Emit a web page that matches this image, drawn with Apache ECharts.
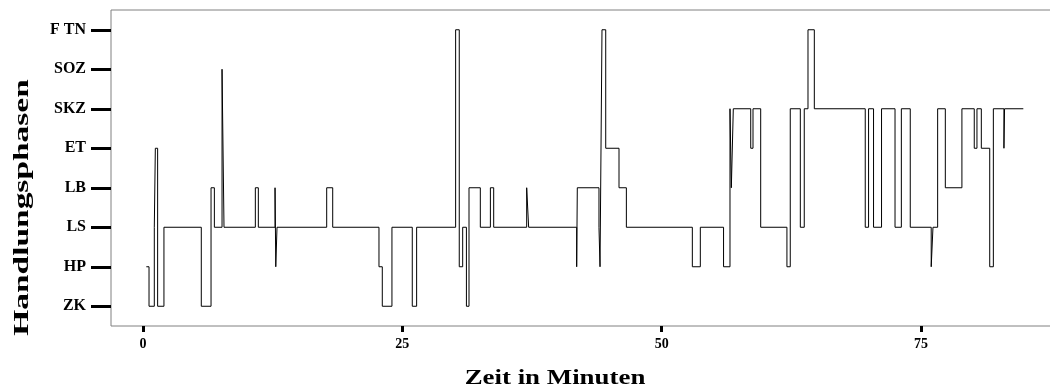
<!DOCTYPE html>
<html>
<head>
<meta charset="utf-8">
<script src="https://cdn.jsdelivr.net/npm/echarts@6/dist/echarts.min.js"></script>
<style>
html,body{margin:0;padding:0;background:#fff;}
#chart{width:1050px;height:390px;}
</style>
</head>
<body>
<div id="chart"></div>
<script>
// Phase categories (bottom to top)
const phases = ['ZK', 'HP', 'LS', 'LB', 'ET', 'SKZ', 'SOZ', 'F TN'];
// Start time (minutes) of each phase segment
const startTimes = [
  0.32, 0.58, 1.09, 1.19, 1.41, 2.02, 5.62, 6.56, 6.88, 7.62,
  7.81, 10.83, 11.12, 12.73, 12.80, 12.92, 17.71, 18.29, 22.75, 23.07,
  24.00, 25.96, 26.38, 30.14, 30.49, 30.82, 31.18, 31.43, 32.52, 33.49,
  33.81, 36.99, 37.18, 41.81, 41.87, 43.96, 44.06, 44.25, 44.61, 45.89,
  46.60, 52.96, 53.73, 55.97, 56.59, 56.72, 56.91, 58.59, 58.81, 59.55,
  62.08, 62.40, 63.37, 63.75, 64.11, 64.72, 69.63, 69.95, 70.43, 71.20,
  72.50, 73.11, 73.97, 75.99, 76.16, 76.61, 77.35, 78.95, 80.14, 80.40,
  80.82, 81.63, 81.98, 83.00, 83.06
];
// Phase of each segment
const segmentPhases = [
  'HP', 'ZK', 'LS', 'ET', 'ZK', 'LS', 'ZK', 'LB', 'LS', 'SOZ',
  'LS', 'LB', 'LS', 'LB', 'HP', 'LS', 'LB', 'LS', 'HP', 'ZK',
  'LS', 'ZK', 'LS', 'F TN', 'HP', 'LS', 'ZK', 'LB', 'LS', 'LB',
  'LS', 'LB', 'LS', 'HP', 'LB', 'LS', 'HP', 'F TN', 'ET', 'LB',
  'LS', 'HP', 'LS', 'HP', 'SKZ', 'LB', 'SKZ', 'ET', 'SKZ', 'LS',
  'HP', 'SKZ', 'LS', 'SKZ', 'F TN', 'SKZ', 'LS', 'SKZ', 'LS', 'SKZ',
  'LS', 'SKZ', 'LS', 'HP', 'LS', 'SKZ', 'LB', 'SKZ', 'ET', 'SKZ',
  'ET', 'HP', 'SKZ', 'ET', 'SKZ'
];
const endTime = 84.87;
const xTicks = [0, 25, 50, 75];
const xTitle = 'Zeit in Minuten';
const yTitle = 'Handlungsphasen';

const phaseIdx = phases.map((p, i) => i);
const seriesData = startTimes.map((t, i) => [t, phases.indexOf(segmentPhases[i])]);
seriesData.push([endTime, phases.indexOf(segmentPhases[segmentPhases.length - 1])]);

const serif = '"Liberation Serif", "Times New Roman", serif';
const chart = echarts.init(document.getElementById('chart'), null, {renderer: 'canvas'});
chart.setOption({
  animation: false,
  backgroundColor: '#fff',
  grid: {
    left: 111, top: 10, width: 945, bottom: 64,
    show: true, borderColor: '#808080', borderWidth: 1,
    containLabel: false,
    outerBoundsMode: 'none'
  },
  xAxis: {
    type: 'value',
    min: -3.085,
    max: 88.02,
    splitLine: {show: false},
    axisLine: {show: false, onZero: false},
    axisTick: {
      show: true, length: 6, customValues: xTicks,
      lineStyle: {color: '#000', width: 3}
    },
    axisLabel: {
      customValues: xTicks, margin: 11,
      color: '#000', fontFamily: serif, fontWeight: 'bold', fontSize: 14
    }
  },
  yAxis: {
    type: 'value',
    min: -0.5,
    max: 7.5,
    splitLine: {show: false},
    axisLine: {show: false, onZero: false},
    axisTick: {
      show: true, length: 20, customValues: phaseIdx,
      lineStyle: {color: '#000', width: 3}
    },
    axisLabel: {
      customValues: phaseIdx,
      formatter: (v) => phases[Math.round(v)],
      margin: 25, color: '#000', fontFamily: serif, fontWeight: 'bold', fontSize: 16
    }
  },
  graphic: [
    {
      type: 'text', x: 555, y: 379, scaleX: 1.28,
      style: {
        text: xTitle, fill: '#000', align: 'center', verticalAlign: 'middle',
        font: 'bold 21px ' + serif
      }
    },
    {
      type: 'text', x: 22.5, y: 207.5, rotation: Math.PI / 2, scaleX: 1.52,
      style: {
        text: yTitle, fill: '#000', align: 'center', verticalAlign: 'middle',
        font: 'bold 22px ' + serif
      }
    }
  ],
  series: [{
    type: 'line',
    step: 'end',
    data: seriesData,
    symbol: 'none',
    lineStyle: {color: '#000', width: 1},
    silent: true
  }]
});
</script>
</body>
</html>
